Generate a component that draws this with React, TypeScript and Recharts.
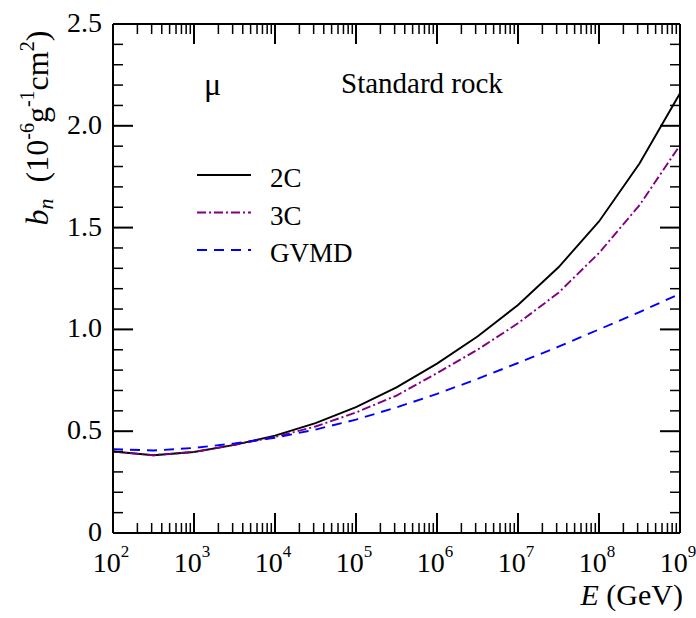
import { Legend, Line, LineChart, XAxis, YAxis } from "recharts";

const FONT = '"Liberation Serif", "DejaVu Serif", "Noto Serif", serif';

// E in GeV, half-decade steps from 10^2 to 10^9
const energies = [
  100, 316, 1000, 3162, 10000, 31623, 100000, 316228, 1000000, 3162278, 10000000, 31622777,
  100000000, 316227766, 1000000000,
];
// b_n in 10^-6 g^-1 cm^2
const bn2C = [0.4, 0.382, 0.398, 0.433, 0.478, 0.54, 0.618, 0.715, 0.832, 0.965, 1.12, 1.305, 1.53, 1.815, 2.16];
const bn3C = [0.4, 0.382, 0.398, 0.433, 0.472, 0.523, 0.592, 0.675, 0.785, 0.9, 1.03, 1.18, 1.375, 1.61, 1.905];
const bnGVMD = [0.412, 0.405, 0.418, 0.44, 0.468, 0.508, 0.557, 0.617, 0.683, 0.757, 0.835, 0.915, 1.0, 1.085, 1.175];

const xDecades = [1e2, 1e3, 1e4, 1e5, 1e6, 1e7, 1e8, 1e9];
const xDecadeExponents = ["2", "3", "4", "5", "6", "7", "8", "9"];
const xMinorMultipliers = [2, 3, 4, 5, 6, 7, 8, 9];
const yMajorTicks = [0, 0.5, 1, 1.5, 2, 2.5];
const yMajorLabels = ["0", "0.5", "1.0", "1.5", "2.0", "2.5"];
const yMinorTicks = [
  0.1, 0.2, 0.3, 0.4, 0.6, 0.7, 0.8, 0.9, 1.1, 1.2, 1.3, 1.4, 1.6, 1.7, 1.8, 1.9, 2.1, 2.2, 2.3, 2.4,
];

const xMinorTicks = xDecades.slice(0, -1).flatMap((d) => xMinorMultipliers.map((m) => m * d));
const xAllTicks = [...xDecades, ...xMinorTicks].sort((a, b) => a - b);
const yAllTicks = [...yMajorTicks, ...yMinorTicks].sort((a, b) => a - b);

const seriesList = [
  { key: "c2", name: "2C", color: "#000000", dash: undefined as string | undefined },
  { key: "c3", name: "3C", color: "#800080", dash: "9 3 2 3" },
  { key: "gvmd", name: "GVMD", color: "#0000ff", dash: "10 7" },
];

const data = energies.map((E, i) => ({ E, c2: bn2C[i], c3: bn3C[i], gvmd: bnGVMD[i] }));

const txt = { fontFamily: FONT, fill: "#000" };

function BottomTick({ x, y, payload }: any) {
  const idx = xDecades.indexOf(payload.value);
  const major = idx >= 0;
  return (
    <g>
      <line x1={x} y1={y} x2={x} y2={y - (major ? 20 : 10)} stroke="#000" strokeWidth={major ? 2 : 1.5} />
      {major && (
        <text x={x - 2} y={y + 39} textAnchor="middle" fontSize={28} style={txt}>
          10
          <tspan dy={-15} fontSize={17}>
            {xDecadeExponents[idx]}
          </tspan>
        </text>
      )}
    </g>
  );
}

function TopTick({ x, y, payload }: any) {
  const major = xDecades.indexOf(payload.value) >= 0;
  return <line x1={x} y1={y} x2={x} y2={y + (major ? 20 : 10)} stroke="#000" strokeWidth={major ? 2 : 1.5} />;
}

function LeftTick({ x, y, payload }: any) {
  const idx = yMajorTicks.indexOf(payload.value);
  const major = idx >= 0;
  return (
    <g>
      <line x1={x} y1={y} x2={x + (major ? 20 : 10)} y2={y} stroke="#000" strokeWidth={major ? 2 : 1.5} />
      {major && (
        <text x={x - 11} y={y + 8} textAnchor="end" fontSize={28} style={txt}>
          {yMajorLabels[idx]}
        </text>
      )}
    </g>
  );
}

function RightTick({ x, y, payload }: any) {
  const major = yMajorTicks.indexOf(payload.value) >= 0;
  return <line x1={x} y1={y} x2={x - (major ? 20 : 10)} y2={y} stroke="#000" strokeWidth={major ? 2 : 1.5} />;
}

function LegendBox() {
  return (
    <svg width={200} height={110}>
      {seriesList.map((s, i) => (
        <g key={s.key}>
          <line
            x1={0}
            x2={54}
            y1={15 + i * 37.5}
            y2={15 + i * 37.5}
            stroke={s.color}
            strokeWidth={2}
            strokeDasharray={s.dash}
          />
          <text x={73} y={27 + i * 37.5} fontSize={27} style={txt}>
            {s.name}
          </text>
        </g>
      ))}
    </svg>
  );
}

export default function App() {
  const axisLine = { stroke: "#000", strokeWidth: 2 };
  return (
    <div
      style={{
        position: "absolute",
        left: 0,
        top: 0,
        width: 696,
        height: 618,
        background: "#fff",
        fontFamily: FONT,
      }}
    >
      <LineChart width={696} height={618} data={data} margin={{ top: 0, right: 0, bottom: 0, left: 0 }}>
        <XAxis
          dataKey="E"
          type="number"
          scale="log"
          domain={[100, 1e9]}
          allowDataOverflow
          ticks={xAllTicks}
          interval={0}
          height={85}
          tickSize={0}
          tickMargin={0}
          tickLine={false}
          axisLine={axisLine}
          tick={<BottomTick />}
        />
        <XAxis
          xAxisId="top"
          orientation="top"
          dataKey="E"
          type="number"
          scale="log"
          domain={[100, 1e9]}
          allowDataOverflow
          ticks={xAllTicks}
          interval={0}
          height={24}
          tickSize={0}
          tickMargin={0}
          tickLine={false}
          axisLine={axisLine}
          tick={<TopTick />}
        />
        <YAxis
          type="number"
          domain={[0, 2.5]}
          allowDataOverflow
          ticks={yAllTicks}
          interval={0}
          width={113}
          tickSize={0}
          tickMargin={0}
          tickLine={false}
          axisLine={axisLine}
          tick={<LeftTick />}
        />
        <YAxis
          yAxisId="right"
          orientation="right"
          type="number"
          domain={[0, 2.5]}
          allowDataOverflow
          ticks={yAllTicks}
          interval={0}
          width={16}
          tickSize={0}
          tickMargin={0}
          tickLine={false}
          axisLine={axisLine}
          tick={<RightTick />}
        />
        {seriesList.map((s) => (
          <Line
            key={s.key}
            dataKey={s.key}
            name={s.name}
            type="linear"
            stroke={s.color}
            strokeWidth={1.9}
            strokeDasharray={s.dash}
            dot={false}
            isAnimationActive={false}
          />
        ))}
        <Legend
          layout="horizontal"
          verticalAlign="middle"
          content={() => <LegendBox />}
          wrapperStyle={{ left: 197, top: 160, width: 200, height: 110 }}
        />
      </LineChart>
      <svg
        width={696}
        height={618}
        style={{ position: "absolute", left: 0, top: 0, pointerEvents: "none", fontFamily: FONT }}
        fill="#000"
      >
        <text x={204} y={95} fontSize={32} style={txt}>
          μ
        </text>
        <text x={341} y={93} fontSize={29} style={txt}>
          Standard rock
        </text>
        <text x={683} y={605} fontSize={30} textAnchor="end" style={txt}>
          <tspan fontStyle="italic">E</tspan>
          {"\u00a0(GeV)"}
        </text>
        <text transform="rotate(-90 48 128)" x={48} y={128} fontSize={32} textAnchor="middle" style={txt}>
          <tspan fontStyle="italic">b</tspan>
          <tspan fontStyle="italic" fontSize={22} dy={5}>
            n
          </tspan>
          <tspan dy={-5}>{"\u00a0\u00a0(10"}</tspan>
          <tspan fontSize={20} dy={-14}>
            -6
          </tspan>
          <tspan dy={14}>g</tspan>
          <tspan fontSize={20} dy={-14}>
            -1
          </tspan>
          <tspan dy={14}>cm</tspan>
          <tspan fontSize={20} dy={-14}>
            2
          </tspan>
          <tspan dy={14}>)</tspan>
        </text>
      </svg>
    </div>
  );
}
